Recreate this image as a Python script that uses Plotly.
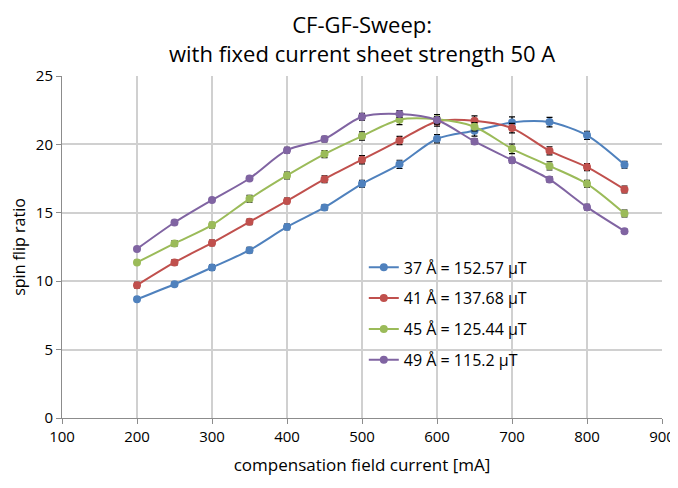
import plotly.graph_objects as go

current_mA = [200, 250, 300, 350, 400, 450, 500, 550, 600, 650, 700, 750, 800, 850]

series_names = ["37 Å = 152.57 µT", "41 Å = 137.68 µT", "45 Å = 125.44 µT", "49 Å = 115.2 µT"]

sfr_37 = [8.68, 9.78, 11.0, 12.27, 13.97, 15.39, 17.12, 18.54, 20.41, 21.0, 21.61, 21.63, 20.66, 18.51]
sfr_41 = [9.71, 11.37, 12.80, 14.34, 15.87, 17.46, 18.88, 20.29, 21.68, 21.73, 21.19, 19.53, 18.34, 16.71]
sfr_45 = [11.37, 12.76, 14.10, 16.02, 17.73, 19.29, 20.61, 21.80, 21.83, 21.29, 19.68, 18.43, 17.12, 14.95]
sfr_49 = [12.36, 14.29, 15.93, 17.51, 19.58, 20.39, 22.02, 22.22, 21.78, 20.22, 18.85, 17.44, 15.41, 13.66]

err_37 = [0.15, 0.15, 0.2, 0.2, 0.2, 0.2, 0.25, 0.3, 0.3, 0.4, 0.4, 0.35, 0.3, 0.25]
err_41 = [0.2, 0.2, 0.2, 0.2, 0.2, 0.25, 0.3, 0.3, 0.35, 0.35, 0.35, 0.3, 0.25, 0.25]
err_45 = [0.15, 0.2, 0.2, 0.25, 0.25, 0.25, 0.3, 0.35, 0.35, 0.3, 0.35, 0.3, 0.25, 0.25]
err_49 = [0.15, 0.15, 0.15, 0.15, 0.2, 0.2, 0.25, 0.25, 0.25, 0.2, 0.2, 0.2, 0.2, 0.15]

title_lines = ["CF-GF-Sweep:", "with fixed current sheet strength 50 A"]

colors = ["#4F81BD", "#C0504D", "#9BBB59", "#8064A2"]

W, H = 670, 480
ML, MR, MT, MB = 54, 16, 68, 70
PH = H - MT - MB

fig = go.Figure()
for i, (name, ys, errs, col) in enumerate(zip(series_names, [sfr_37, sfr_41, sfr_45, sfr_49],
                                              [err_37, err_41, err_45, err_49], colors)):
    fig.add_trace(go.Scatter(
        x=current_mA, y=ys, name=name, mode="lines+markers",
        legendgroup=f"g{i}",
        line=dict(color=col, width=2, shape="spline", smoothing=0.8),
        marker=dict(color=col, size=8, symbol="circle"),
        error_y=dict(type="data", array=errs, visible=True, color="black",
                     thickness=1.2, width=3),
    ))

font_family = "Open Sans, Noto Sans, sans-serif"

fig.add_annotation(text="<br>".join(title_lines), xref="paper", yref="paper",
                   x=0.5, xanchor="center",
                   y=(H - MB - 0.5) / PH, yanchor="top",
                   borderpad=0, showarrow=False,
                   font=dict(size=22, family=font_family))

fig.update_layout(
    width=W, height=H,
    margin=dict(l=ML, r=MR, t=MT, b=MB),
    paper_bgcolor="white", plot_bgcolor="white",
    font=dict(family=font_family, size=15, color="black"),
    showlegend=True,
    legend=dict(x=0.503, y=0.49, xanchor="left", yanchor="top",
                bgcolor="rgba(0,0,0,0)", font=dict(size=16),
                tracegroupgap=7, itemwidth=30),
    xaxis=dict(range=[100, 900], dtick=100, tick0=100, automargin=False,
               showgrid=True, gridcolor="#D0D0D0", gridwidth=1.5,
               showline=True, linecolor="#8C8C8C", linewidth=1,
               ticks="outside", ticklen=5, tickcolor="#8C8C8C",
               zeroline=False,
               title=dict(text="compensation field current [mA]", standoff=14,
                          font=dict(size=17)),
               tickfont=dict(size=15)),
    yaxis=dict(range=[0, 25], dtick=5, automargin=False,
               showgrid=True, gridcolor="#D0D0D0", gridwidth=1.5,
               showline=True, linecolor="#8C8C8C", linewidth=1,
               ticks="outside", ticklen=5, tickcolor="#8C8C8C",
               zeroline=False,
               title=dict(text="spin flip ratio", standoff=8, font=dict(size=16)),
               tickfont=dict(size=15)),
)

fig.write_html("out.html")
